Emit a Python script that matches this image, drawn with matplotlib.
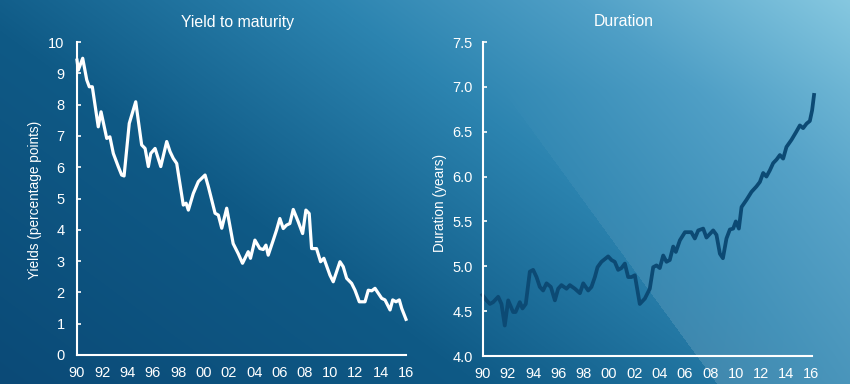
import numpy as np
import matplotlib
matplotlib.use("Agg")
import matplotlib.pyplot as plt
from matplotlib.colors import to_rgb

# ---------------- data ----------------
yield_years = [1990.0, 1990.1, 1990.45, 1990.77, 1990.97, 1991.21, 1991.68, 1991.9,
               1992.35, 1992.6, 1992.87, 1993.26, 1993.53, 1993.72, 1994.13, 1994.64,
               1995.11, 1995.38, 1995.64, 1995.83, 1996.17, 1996.62, 1997.09, 1997.35,
               1997.61, 1997.88, 1998.4, 1998.62, 1998.8, 1999.19, 1999.59, 2000.12,
               2000.38, 2000.91, 2001.17, 2001.44, 2001.83, 2002.34, 2002.74, 2003.08,
               2003.53, 2003.71, 2004.06, 2004.45, 2004.72, 2004.93, 2005.11, 2005.51,
               2005.77, 2006.03, 2006.30, 2006.56, 2006.82, 2007.09, 2007.48, 2007.83,
               2008.09, 2008.35, 2008.54, 2008.93, 2009.25, 2009.51, 2009.99, 2010.25,
               2010.78, 2011.04, 2011.31, 2011.70, 2011.97, 2012.31, 2012.76, 2013.02,
               2013.29, 2013.55, 2014.08, 2014.34, 2014.74, 2014.95, 2015.21, 2015.47,
               2015.66, 2016.0]
yield_vals = [9.42, 9.10, 9.48, 8.79, 8.57, 8.57, 7.29, 7.77,
              6.92, 6.97, 6.44, 6.02, 5.75, 5.72, 7.40, 8.09,
              6.71, 6.60, 6.02, 6.44, 6.60, 6.02, 6.82, 6.50,
              6.28, 6.12, 4.79, 4.85, 4.63, 5.16, 5.54, 5.75,
              5.38, 4.53, 4.47, 4.05, 4.69, 3.56, 3.24, 2.93,
              3.30, 3.09, 3.67, 3.40, 3.37, 3.51, 3.19, 3.67,
              3.99, 4.36, 4.04, 4.15, 4.20, 4.65, 4.26, 3.88,
              4.63, 4.52, 3.40, 3.40, 2.98, 3.09, 2.55, 2.34,
              2.98, 2.82, 2.45, 2.29, 2.07, 1.70, 1.70, 2.07,
              2.05, 2.13, 1.81, 1.76, 1.44, 1.76, 1.70, 1.76,
              1.49, 1.14]

dur_years = [1990.0, 1990.32, 1990.58, 1990.84, 1991.24, 1991.5, 1991.76, 1992.03,
             1992.42, 1992.61, 1992.95, 1993.16, 1993.42, 1993.74, 1994.0, 1994.27,
             1994.53, 1994.79, 1995.06, 1995.4, 1995.72, 1995.98, 1996.24, 1996.64,
             1996.9, 1997.3, 1997.7, 1997.96, 1998.35, 1998.61, 1998.88, 1999.09,
             1999.4, 1999.93, 2000.19, 2000.45, 2000.72, 2000.98, 2001.25, 2001.51,
             2001.77, 2002.04, 2002.43, 2002.83, 2003.22, 2003.49, 2003.75, 2004.01,
             2004.28, 2004.54, 2004.80, 2005.07, 2005.28, 2005.6, 2006.0, 2006.5,
             2006.78, 2007.05, 2007.44, 2007.7, 2008.23, 2008.49, 2008.76, 2009.0,
             2009.28, 2009.55, 2009.81, 2010.02, 2010.26, 2010.47, 2010.86, 2011.26,
             2011.65, 2011.92, 2012.18, 2012.44, 2012.71, 2012.97, 2013.24, 2013.5,
             2013.76, 2014.02, 2014.42, 2014.8, 2015.08, 2015.34, 2015.61, 2015.87,
             2016.05, 2016.2]
dur_vals = [4.68, 4.62, 4.58, 4.60, 4.66, 4.58, 4.34, 4.62,
            4.49, 4.49, 4.60, 4.53, 4.58, 4.94, 4.96, 4.88,
            4.77, 4.73, 4.81, 4.77, 4.62, 4.75, 4.79, 4.75,
            4.79, 4.75, 4.70, 4.81, 4.73, 4.77, 4.88, 4.99,
            5.05, 5.11, 5.07, 5.05, 4.96, 4.98, 5.03, 4.88,
            4.88, 4.90, 4.58, 4.64, 4.75, 4.99, 5.01, 4.98,
            5.12, 5.05, 5.07, 5.22, 5.16, 5.29, 5.38, 5.38,
            5.31, 5.40, 5.42, 5.32, 5.40, 5.35, 5.14, 5.09,
            5.31, 5.41, 5.42, 5.50, 5.42, 5.66, 5.74, 5.83,
            5.89, 5.94, 6.04, 6.00, 6.07, 6.15, 6.19, 6.24,
            6.20, 6.33, 6.41, 6.50, 6.57, 6.54, 6.59, 6.62,
            6.74, 6.91]

x_ticks = list(range(1990, 2017, 2))
x_tick_labels = ["90", "92", "94", "96", "98", "00", "02", "04", "06", "08",
                 "10", "12", "14", "16"]
yield_ticks = list(range(0, 11))
dur_ticks = [4.0, 4.5, 5.0, 5.5, 6.0, 6.5, 7.0, 7.5]

# ---------------- figure ----------------
plt.rcParams['font.family'] = ['Liberation Sans', 'DejaVu Sans']
W, H = 850, 384
fig = plt.figure(figsize=(W / 100, H / 100), dpi=100)

# background gradient
bg = fig.add_axes([0, 0, 1, 1], zorder=-10)
xx, yy = np.meshgrid(np.arange(W) + 0.5, np.arange(H) + 0.5)
u = xx / W
v = 1 - yy / H
t = np.clip(0.62 * u + 0.38 * v, 0, 1)
stops = [0.0, 0.35, 0.62, 0.8, 1.0]
cols = [to_rgb(c) for c in ["#0b4a77", "#0f5a86", "#2c84b0", "#4f9fc6", "#86c8e0"]]
img = np.zeros((H, W, 3))
for ch in range(3):
    img[..., ch] = np.interp(t, stops, [c[ch] for c in cols])
alpha = np.clip((yy - 90) / 290, 0, 1) * 0.14
light = (xx > 437 + 0.73 * yy)
a = np.where(light, alpha, 0)[..., None]
img = img * (1 - a) + a
bg.imshow(img, aspect='auto', extent=[0, W, H, 0], interpolation='bilinear')
bg.axis('off')

def style(ax):
    ax.set_facecolor('none')
    for s in ['top', 'right']:
        ax.spines[s].set_visible(False)
    for s in ['left', 'bottom']:
        ax.spines[s].set_color('white')
        ax.spines[s].set_linewidth(1.5)
    ax.tick_params(axis='y', direction='in', length=3, width=1.2, color='white',
                   labelcolor='white', labelsize=10.5, pad=9)
    ax.tick_params(axis='x', length=0, labelcolor='white', labelsize=10.5, pad=8)
    ax.set_xlim(1990, 2016)
    ax.set_xticks(x_ticks)
    ax.set_xticklabels(x_tick_labels)

ax1 = fig.add_axes([77 / W, 1 - 355 / H, 329 / W, 313 / H])
style(ax1)
ax1.plot(yield_years, yield_vals, color='white', lw=2.3, clip_on=False,
         solid_joinstyle='round')
ax1.set_ylim(0, 10)
ax1.set_yticks(yield_ticks)

ax2 = fig.add_axes([482.5 / W, 1 - 356 / H, 329 / W, 314 / H])
style(ax2)
ax2.plot(dur_years, dur_vals, color='#0c4a74', lw=2.7, clip_on=False,
         solid_joinstyle='round')
ax2.set_ylim(4.0, 7.5)
ax2.set_yticks(dur_ticks)
ax2.set_yticklabels([f"{d:.1f}" for d in dur_ticks])
ax2.tick_params(axis='y', pad=7)

fig.text(35 / W, 1 - 200 / H, "Yields (percentage points)", color='white',
         fontsize=9.8, rotation=90, ha='center', va='center')
fig.text(440 / W, 1 - 203 / H, "Duration (years)", color='white',
         fontsize=9.8, rotation=90, ha='center', va='center')
fig.text(238 / W, 1 - 22 / H, "Yield to maturity", color='white', fontsize=11.4,
         ha='center', va='center')
fig.text(624 / W, 1 - 21 / H, "Duration", color='white', fontsize=11.4,
         ha='center', va='center')

fig.savefig("out.png", dpi=100)
